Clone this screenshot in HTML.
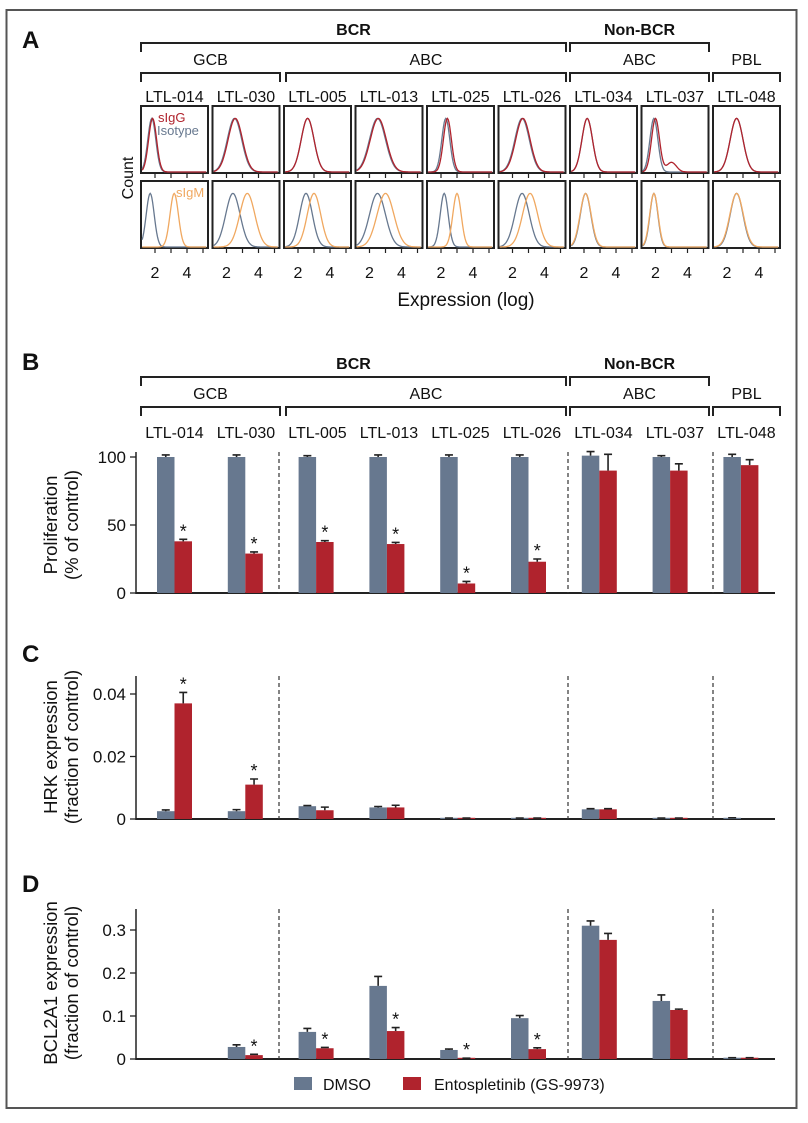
<!DOCTYPE html>
<html><head><meta charset="utf-8"><style>
body{margin:0;background:#fff;width:808px;height:1118px;overflow:hidden}
svg{font-family:"Liberation Sans",Arial,sans-serif;}
</style></head><body>
<svg id="fig" width="808" height="1118" viewBox="0 0 808 1118" xmlns="http://www.w3.org/2000/svg">
<rect x="6.5" y="10" width="790" height="1098" fill="none" stroke="#555" stroke-width="2"/>
</svg>
<script>
// ---- data ----
const cellLines = ["LTL-014","LTL-030","LTL-005","LTL-013","LTL-025","LTL-026","LTL-034","LTL-037","LTL-048"];
const seriesNames = ["DMSO","Entospletinib (GS-9973)"];
// Panel B proliferation (% of control)
const profDMSO = [100,100,100,100,100,100,101,100,100];
const profDMSOErr = [1.5,1.5,1,1.5,1.5,1.5,3,1,2];
const profEnto = [38,29,37.5,36,7,23,90,90,94];
const profEntoErr = [1.5,1.2,1,1.2,1.5,2,12,5,4];
const profSig = [1,1,1,1,1,1,0,0,0];
const profTicks = [0,50,100];
// Panel C HRK
const hrkDMSO = [0.0025,0.0025,0.0041,0.0037,0.0002,0.0002,0.0031,0.0002,0.0003];
const hrkDMSOErr = [0.0004,0.0005,0.0002,0.0003,0.0001,0.0001,0.0002,0.0001,0.0001];
const hrkEnto = [0.037,0.011,0.0028,0.0037,0.0002,0.0002,0.0031,0.0002,0];
const hrkEntoErr = [0.0035,0.0018,0.001,0.0007,0.0001,0.0001,0.0002,0.0001,0];
const hrkSig = [1,1,0,0,0,0,0,0,0];
const hrkTicks = [0,0.02,0.04];
// Panel D BCL2A1
const bclDMSO = [0,0.028,0.063,0.17,0.021,0.095,0.31,0.135,0.003];
const bclDMSOErr = [0,0.005,0.008,0.022,0.002,0.006,0.011,0.014,0];
const bclEnto = [0,0.009,0.025,0.065,0.002,0.023,0.277,0.114,0.003];
const bclEntoErr = [0,0.002,0.002,0.008,0,0.003,0.015,0.002,0];
const bclSig = [0,1,1,1,1,1,0,0,0];
const bclTicks = [0,0.1,0.2,0.3];
// Panel A histogram peaks (log units)
const isoPeak1 = [1.8,2.5,2.6,2.5,2.3,2.6,2.2,1.9,2.6];
const igGPeak = [1.85,2.55,2.6,2.55,2.4,2.65,2.2,2.0,2.6];
const isoPeak2 = [1.7,2.4,2.5,2.5,2.2,2.6,2.1,1.9,2.6];
const igMPeak = [3.2,3.3,3.0,3.0,3.0,3.1,2.1,1.9,2.6];
const histWidth = [0.25,0.45,0.4,0.5,0.25,0.45,0.33,0.25,0.4];
const histTicks = [2,3,4,5];

const NS="http://www.w3.org/2000/svg";
const svg=document.getElementById('fig');
function el(tag,attrs,parent){const e=document.createElementNS(NS,tag);for(const k in attrs)e.setAttribute(k,attrs[k]);(parent||svg).appendChild(e);return e;}
function txt(x,y,s,size,opts,parent){const t=el('text',Object.assign({x:x,y:y,'font-size':size,'text-anchor':'middle',fill:'#111'},opts||{}),parent);t.textContent=s;return t;}

const GRAY="#67788f", RED="#b0232d", ORANGE="#f0a860";

[["A",48],["B",370],["C",662],["D",892]].forEach(([l,y])=>{const t=txt(22,y,l,24,{'text-anchor':'start','font-weight':'bold'});

});

function bracket(x1,x2,y,label,bold,name){
  const g=el('g',{});
  
  
  el('path',{d:`M${x1},${y+9}V${y}H${x2}V${y+9}`,fill:'none',stroke:'#222','stroke-width':2},g);
  txt((x1+x2)/2,y-8,label,16,bold?{'font-weight':'bold'}:{},g);
}
function headers(y0,prefix){
  bracket(141,566,y0,"BCR",true,prefix+'-bcr-bracket');
  bracket(570,709,y0,"Non-BCR",true,prefix+'-nonbcr-bracket');
  bracket(141,280,y0+30,"GCB",false,prefix+'-gcb-bracket');
  bracket(286,566,y0+30,"ABC",false,prefix+'-abc-bracket');
  bracket(570,709,y0+30,"ABC",false,prefix+'-nonbcr-abc-bracket');
  bracket(713,780,y0+30,"PBL",false,prefix+'-pbl-bracket');
}
headers(43,'a');
headers(377,'b');

const boxW=67, boxStep=71.5, boxX0=141;
const r1y=106, r2y=181, boxH=67;
function hx(i,v){return boxX0+i*boxStep+14+(v-2)*16;}
function curve(i,top,peak,w,color,name,tail){
  let pts=[];
  for(let v=1.2;v<=5.2;v+=0.05){
    let d=Math.exp(-Math.pow((v-peak)/w,2)/2);
    if(tail) d+=0.18*Math.exp(-Math.pow((v-peak-1)/0.3,2)/2);
    let x=hx(i,v); if(x<boxX0+i*boxStep+1||x>boxX0+i*boxStep+boxW-1)continue;
    pts.push(x.toFixed(1)+','+(top+boxH-1-d*(boxH*0.8)).toFixed(1));
  }
  const p=el('polyline',{points:pts.join(' '),fill:'none',stroke:color,'stroke-width':1.3});
  
  
}
cellLines.forEach((c,i)=>{
  const x=boxX0+i*boxStep;
  const t=txt(x+boxW/2,102,c,16);
  
  
  [r1y,r2y].forEach((ty,r)=>{
    const b=el('rect',{x:x,y:ty,width:boxW,height:boxH,fill:'none',stroke:'#222','stroke-width':2});
    
    
    histTicks.forEach(v=>el('line',{x1:hx(i,v),x2:hx(i,v),y1:ty+boxH,y2:ty+boxH+5,stroke:'#222','stroke-width':1.2}));
  });
  [2,4].forEach(v=>txt(hx(i,v),278,String(v),16));
  curve(i,r1y,isoPeak1[i],histWidth[i],GRAY,'isotype-curve-'+c.toLowerCase());
  curve(i,r1y,igGPeak[i],histWidth[i],RED,'sigg-curve-'+c.toLowerCase(),i===7);
  curve(i,r2y,isoPeak2[i],histWidth[i],GRAY,'isotype-curve2-'+c.toLowerCase());
  curve(i,r2y,igMPeak[i],histWidth[i]*1.05,ORANGE,'sigm-curve-'+c.toLowerCase());
});
let t;
t=txt(158,122,"sIgG",13,{fill:RED,'text-anchor':'start'});  
t=txt(157,135,"Isotype",13,{fill:GRAY,'text-anchor':'start'});  
t=txt(176,197,"sIgM",13,{fill:ORANGE,'text-anchor':'start'});  
t=txt(0,0,"Count",16,{transform:'translate(133,178) rotate(-90)'});  
t=txt(466,306,"Expression (log)",19);  

cellLines.forEach((c,i)=>{const t=txt(boxX0+i*boxStep+boxW/2,438,c,16);

});

const barX0=157, barStep=70.8, barW=17.5;
function barPanel(opt){
  const {name,zeroY,pxPerUnit,top,dm,dmE,en,enE,sig,ticks,fmt,title1,title2,titleY}=opt;
  const g=el('g',{});
  
  
  const y=v=>zeroY-v*pxPerUnit;
  el('line',{x1:136,x2:136,y1:top,y2:zeroY+1,stroke:'#222','stroke-width':1.5},g);
  el('line',{x1:136,x2:775,y1:zeroY,y2:zeroY,stroke:'#222','stroke-width':2},g);
  ticks.forEach(v=>{el('line',{x1:130,x2:136,y1:y(v),y2:y(v),stroke:'#222','stroke-width':1.3},g);
    txt(126,y(v)+6,fmt(v),17,{'text-anchor':'end'},g);});
  [279,568,713].forEach(x=>{const l=el('line',{x1:x,x2:x,y1:top,y2:zeroY,stroke:'#333','stroke-width':1.2,'stroke-dasharray':'4,3'},g);
    
    });
  const ty=el('text',{transform:`translate(0,${titleY}) rotate(-90)`,'font-size':18.5,'text-anchor':'middle',fill:'#111'},g);
  
  
  const s1=el('tspan',{x:0,y:57},ty); s1.textContent=title1;
  const s2=el('tspan',{x:0,y:78},ty); s2.textContent=title2;
  cellLines.forEach((c,i)=>{
    const x=barX0+i*barStep;
    [[dm,dmE,GRAY,x,'dmso'],[en,enE,RED,x+barW,'ento']].forEach(([arr,err,col,bx,s])=>{
      const v=arr[i]; if(v<=0)return;
      const h=Math.max(v*pxPerUnit,1.2);
      const r=el('rect',{x:bx,y:zeroY-h,width:barW,height:h,fill:col},g);
      
      
      const cx=bx+barW/2, et=y(v+err[i]);
      el('path',{d:`M${cx},${zeroY-h}V${et}M${cx-4},${et}H${cx+4}`,stroke:'#222','stroke-width':1.6,fill:'none'},g);
    });
    if(sig[i]){const st=txt(x+barW*1.5,y(en[i]+enE[i])-2,"*",18,{},g);
      
      }
  });
}
barPanel({name:'proliferation-chart',zeroY:593,pxPerUnit:1.36,top:452,dm:profDMSO,dmE:profDMSOErr,en:profEnto,enE:profEntoErr,sig:profSig,ticks:profTicks,fmt:v=>String(v),title1:"Proliferation",title2:"(% of control)",titleY:525});
barPanel({name:'hrk-chart',zeroY:819,pxPerUnit:3125,top:676,dm:hrkDMSO,dmE:hrkDMSOErr,en:hrkEnto,enE:hrkEntoErr,sig:hrkSig,ticks:hrkTicks,fmt:v=>v===0?"0":v.toFixed(2),title1:"HRK expression",title2:"(fraction of control)",titleY:747});
barPanel({name:'bcl2a1-chart',zeroY:1059,pxPerUnit:430,top:909,dm:bclDMSO,dmE:bclDMSOErr,en:bclEnto,enE:bclEntoErr,sig:bclSig,ticks:bclTicks,fmt:v=>v===0?"0":v.toFixed(1),title1:"BCL2A1 expression",title2:"(fraction of control)",titleY:983});

const lg=el('g',{});


const le1=el('g',{},lg);


el('rect',{x:294,y:1077,width:18,height:13,fill:GRAY},le1);
txt(323,1090,seriesNames[0],16,{'text-anchor':'start'},le1);
const le2=el('g',{},lg);


el('rect',{x:403,y:1077,width:18,height:13,fill:RED},le2);
txt(434,1090,seriesNames[1],16,{'text-anchor':'start'},le2);
</script>
</body></html>
